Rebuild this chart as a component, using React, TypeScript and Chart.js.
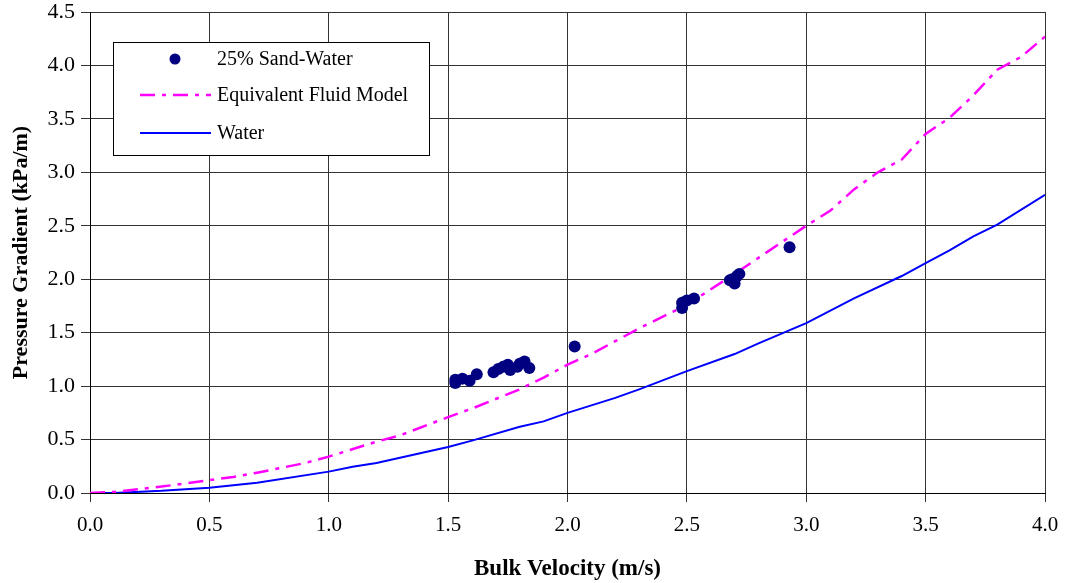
import React, { useEffect, useRef } from "react";
import { Chart, registerables } from "chart.js";

Chart.register(...registerables);

// Measured slurry data: 25% sand in water
const sandVelocity = [
  1.53, 1.53, 1.56, 1.59, 1.62,
  1.69, 1.71, 1.73, 1.75, 1.76, 1.79, 1.8, 1.82, 1.84,
  2.03,
  2.48, 2.48, 2.5, 2.53,
  2.68, 2.69, 2.7, 2.71, 2.72,
  2.93,
];
const sandGradient = [
  1.03, 1.06, 1.07, 1.05, 1.11,
  1.13, 1.16, 1.18, 1.2, 1.15, 1.18, 1.21, 1.23, 1.17,
  1.37,
  1.78, 1.73, 1.8, 1.82,
  1.99, 2.0, 1.96, 2.03, 2.05,
  2.3,
];

// Equivalent fluid model prediction
const modelVelocity = [
  0, 0.1, 0.3, 0.5, 0.6, 0.7, 0.9, 1.0, 1.2, 1.3, 1.5, 1.6, 1.8, 1.9, 2.0,
  2.1, 2.2, 2.3, 2.5, 2.7, 2.8, 3.0, 3.1, 3.2, 3.3, 3.4, 3.5, 3.6, 3.7, 3.8,
  3.9, 4.0,
];
const modelGradient = [
  0, 0.01, 0.06, 0.12, 0.15, 0.19, 0.28, 0.34, 0.48, 0.54, 0.71, 0.79, 0.97,
  1.08, 1.2, 1.3, 1.42, 1.54, 1.76, 2.05, 2.2, 2.5, 2.64, 2.84, 3.0, 3.12,
  3.36, 3.51, 3.72, 3.96, 4.08, 4.27,
];

// Clear water reference curve
const waterVelocity = [
  0, 0.1, 0.3, 0.5, 0.7, 1.0, 1.1, 1.2, 1.5, 1.6, 1.8, 1.9, 2.0, 2.2, 2.3,
  2.5, 2.7, 2.8, 3.0, 3.2, 3.4, 3.5, 3.6, 3.7, 3.8, 4.0,
];
const waterGradient = [
  0, 0, 0.02, 0.05, 0.095, 0.2, 0.245, 0.28, 0.43, 0.49, 0.62, 0.67, 0.75,
  0.89, 0.97, 1.14, 1.3, 1.4, 1.59, 1.82, 2.03, 2.15, 2.27, 2.4, 2.51, 2.79,
];

const seriesNames = ["25% Sand-Water", "Equivalent Fluid Model", "Water"];

const toPoints = (xs: number[], ys: number[]) =>
  xs.map((x, i) => ({ x, y: ys[i] }));

const SERIF = "'Liberation Serif', 'Times New Roman', serif";

// Boxed legend drawn inside the plot area
const boxedLegend = {
  id: "boxedLegend",
  afterDraw(chart: any) {
    const { ctx } = chart;
    const bx = 113, by = 42, bw = 316, bh = 113;
    ctx.save();
    ctx.fillStyle = "#ffffff";
    ctx.fillRect(bx, by, bw, bh);
    ctx.strokeStyle = "#000000";
    ctx.lineWidth = 1;
    ctx.strokeRect(bx + 0.5, by + 0.5, bw, bh);

    const rows = [59, 95, 133];
    const textX = 217;
    ctx.font = `20px ${SERIF}`;
    ctx.textBaseline = "middle";
    ctx.textAlign = "left";
    ctx.fillStyle = "#000000";

    chart.data.datasets.forEach((ds: any, i: number) => {
      const y = rows[i];
      if (i === 0) {
        ctx.beginPath();
        ctx.fillStyle = ds.backgroundColor;
        ctx.arc(175, y, 5.5, 0, Math.PI * 2);
        ctx.fill();
      } else {
        ctx.beginPath();
        ctx.strokeStyle = ds.borderColor;
        ctx.lineWidth = ds.borderWidth;
        ctx.setLineDash(ds.borderDash || []);
        ctx.moveTo(140, y);
        ctx.lineTo(211, y);
        ctx.stroke();
        ctx.setLineDash([]);
      }
      ctx.fillStyle = "#000000";
      ctx.fillText(ds.label, textX, y + 1);
    });
    ctx.restore();
  },
};

export default function App() {
  const canvasRef = useRef<HTMLCanvasElement | null>(null);

  useEffect(() => {
    document.body.style.margin = "0";
    const canvas = canvasRef.current;
    if (!canvas) return;

    const gridColor = "#333333";

    const chart = new Chart(canvas, {
      type: "scatter",
      data: {
        datasets: [
          {
            label: seriesNames[0],
            data: toPoints(sandVelocity, sandGradient),
            backgroundColor: "#000080",
            borderColor: "#000080",
            pointRadius: 6,
            pointBorderWidth: 0,
            showLine: false,
          },
          {
            label: seriesNames[1],
            data: toPoints(modelVelocity, modelGradient),
            borderColor: "#ff00ff",
            backgroundColor: "#ff00ff",
            borderWidth: 2.5,
            borderDash: [15, 7, 4, 7],
            pointRadius: 0,
            showLine: true,
          },
          {
            label: seriesNames[2],
            data: toPoints(waterVelocity, waterGradient),
            borderColor: "#0000ff",
            backgroundColor: "#0000ff",
            borderWidth: 2,
            pointRadius: 0,
            showLine: true,
          },
        ],
      },
      options: {
        animation: false,
        responsive: false,
        maintainAspectRatio: false,
        layout: { padding: { top: 12, right: 20, left: 0, bottom: 0 } },
        plugins: {
          legend: { display: false },
          tooltip: { enabled: false },
        },
        scales: {
          x: {
            type: "linear",
            min: 0,
            max: 4,
            afterFit: (scale: any) => {
              scale.height = 90;
              scale.paddingRight = 0;
              scale.paddingLeft = 0;
            },
            ticks: {
              stepSize: 0.5,
              padding: 11,
              color: "#000000",
              font: { family: SERIF, size: 21 },
              callback: (v: any) => Number(v).toFixed(1),
            },
            grid: { color: gridColor, lineWidth: 1, tickLength: 9 },
            border: { color: "#000000", width: 1 },
            title: {
              display: true,
              text: "Bulk Velocity (m/s)",
              color: "#000000",
              font: { family: SERIF, size: 23, weight: "bold" },
              padding: { top: 0, bottom: 0 },
            },
          },
          y: {
            type: "linear",
            min: 0,
            max: 4.5,
            afterFit: (scale: any) => {
              scale.width = 90;
              scale.paddingTop = 0;
              scale.paddingBottom = 0;
            },
            ticks: {
              stepSize: 0.5,
              padding: 6,
              color: "#000000",
              font: { family: SERIF, size: 22 },
              callback: (v: any) => Number(v).toFixed(1),
            },
            grid: { color: gridColor, lineWidth: 1, tickLength: 9 },
            border: { color: "#000000", width: 1 },
            title: {
              display: true,
              text: "Pressure Gradient (kPa/m)",
              color: "#000000",
              font: { family: SERIF, size: 22, weight: "bold" },
              padding: { top: 8, bottom: 0 },
            },
          },
        },
      },
      plugins: [boxedLegend],
    });

    return () => chart.destroy();
  }, []);

  return (
    <canvas
      ref={canvasRef}
      width={1065}
      height={583}
      style={{ display: "block", width: 1065, height: 583 }}
    />
  );
}
